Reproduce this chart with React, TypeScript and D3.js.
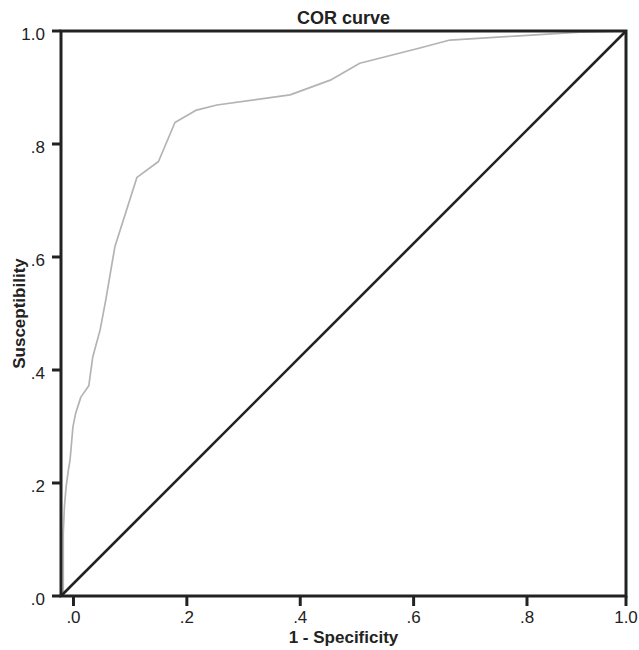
import * as d3 from 'd3';
import {useEffect, useRef} from 'react';

// ROC points (1 - specificity, sensitivity)
const fpr = [-0.018, -0.018, -0.016, -0.013, -0.009, -0.006, -0.001, 0.004, 0.013, 0.027, 0.034, 0.047, 0.057, 0.073, 0.112, 0.150, 0.179, 0.217, 0.253, 0.382, 0.453, 0.505, 0.611, 0.664, 0.779, 0.907, 1.0];
const tpr = [0, 0.111, 0.158, 0.193, 0.223, 0.241, 0.299, 0.324, 0.352, 0.372, 0.423, 0.471, 0.524, 0.618, 0.741, 0.769, 0.838, 0.860, 0.869, 0.887, 0.913, 0.943, 0.970, 0.984, 0.991, 0.998, 1.0];

const tickValues = [0, 0.2, 0.4, 0.6, 0.8, 1.0];
const tickLabels = ['.0', '.2', '.4', '.6', '.8', '1.0'];

export default function App() {
    const svgRef = useRef<SVGSVGElement>(null);

    const width = 639;
    const height = 650;
    const font = '"Liberation Sans", Arial, sans-serif';
    const ink = '#222';

    useEffect(() => {
        const svg = d3.select(svgRef.current);
        svg.selectAll('*').remove();

        // the original axis is not quite linear near the right end, so the scale is piecewise
        const x = d3.scaleLinear().domain([-0.022, 0.8, 1.0]).range([61, 527, 626]);
        const y = d3.scaleLinear().domain([0, 1]).range([596, 31]);

        const [left, right] = [x.range()[0], x.range()[2]];
        const [bottom, top] = y.range();

        // roc curve
        const line = d3.line<number>()
            .x((d, i) => x(fpr[i]))
            .y(d => y(d));

        svg.append('path')
            .datum(tpr)
            .attr('d', line)
            .attr('fill', 'none')
            .attr('stroke', '#b3b3b6')
            .attr('stroke-width', 1.7)
            .attr('stroke-linejoin', 'round');

        // reference diagonal
        svg.append('line')
            .attr('x1', left).attr('y1', bottom)
            .attr('x2', right).attr('y2', top)
            .attr('stroke', ink)
            .attr('stroke-width', 2.6);

        // frame
        svg.append('rect')
            .attr('x', left).attr('y', top)
            .attr('width', right - left)
            .attr('height', bottom - top)
            .attr('fill', 'none')
            .attr('stroke', ink)
            .attr('stroke-width', 3);

        // y ticks
        const yt = svg.append('g');
        yt.selectAll('line')
            .data(tickValues)
            .enter()
            .append('line')
            .attr('x1', left - 9).attr('x2', left)
            .attr('y1', d => y(d)).attr('y2', d => y(d))
            .attr('stroke', ink)
            .attr('stroke-width', 3);
        yt.selectAll('text')
            .data(tickValues)
            .enter()
            .append('text')
            .attr('x', 45)
            .attr('y', d => y(d) + 9)
            .attr('text-anchor', 'end')
            .attr('font-family', font)
            .attr('font-size', 17)
            .attr('fill', ink)
            .text((d, i) => tickLabels[i]);

        // x ticks
        const xt = svg.append('g');
        xt.selectAll('line')
            .data(tickValues)
            .enter()
            .append('line')
            .attr('x1', d => x(d)).attr('x2', d => x(d))
            .attr('y1', bottom).attr('y2', bottom + 10)
            .attr('stroke', ink)
            .attr('stroke-width', 3);
        xt.selectAll('text')
            .data(tickValues)
            .enter()
            .append('text')
            .attr('x', d => x(d))
            .attr('y', 623)
            .attr('text-anchor', 'middle')
            .attr('font-family', font)
            .attr('font-size', 17)
            .attr('fill', ink)
            .text((d, i) => tickLabels[i]);

        // titles
        svg.append('text')
            .attr('x', (left + right) / 2)
            .attr('y', 24)
            .attr('text-anchor', 'middle')
            .attr('font-family', font)
            .attr('font-weight', 'bold')
            .attr('font-size', 18)
            .attr('fill', ink)
            .text('COR curve');

        svg.append('text')
            .attr('x', (left + right) / 2)
            .attr('y', 643)
            .attr('text-anchor', 'middle')
            .attr('font-family', font)
            .attr('font-weight', 'bold')
            .attr('font-size', 17)
            .attr('fill', ink)
            .text('1 - Specificity');

        svg.append('text')
            .attr('transform', `translate(25, ${(top + bottom) / 2}) rotate(-90)`)
            .attr('text-anchor', 'middle')
            .attr('font-family', font)
            .attr('font-weight', 'bold')
            .attr('font-size', 17)
            .attr('fill', ink)
            .text('Susceptibility');
    }, []);

    return (
        <svg
            ref={svgRef}
            width={width}
            height={height}
            style={{position: 'absolute', left: 0, top: 0, background: '#fff'}}
        />
    );
}
